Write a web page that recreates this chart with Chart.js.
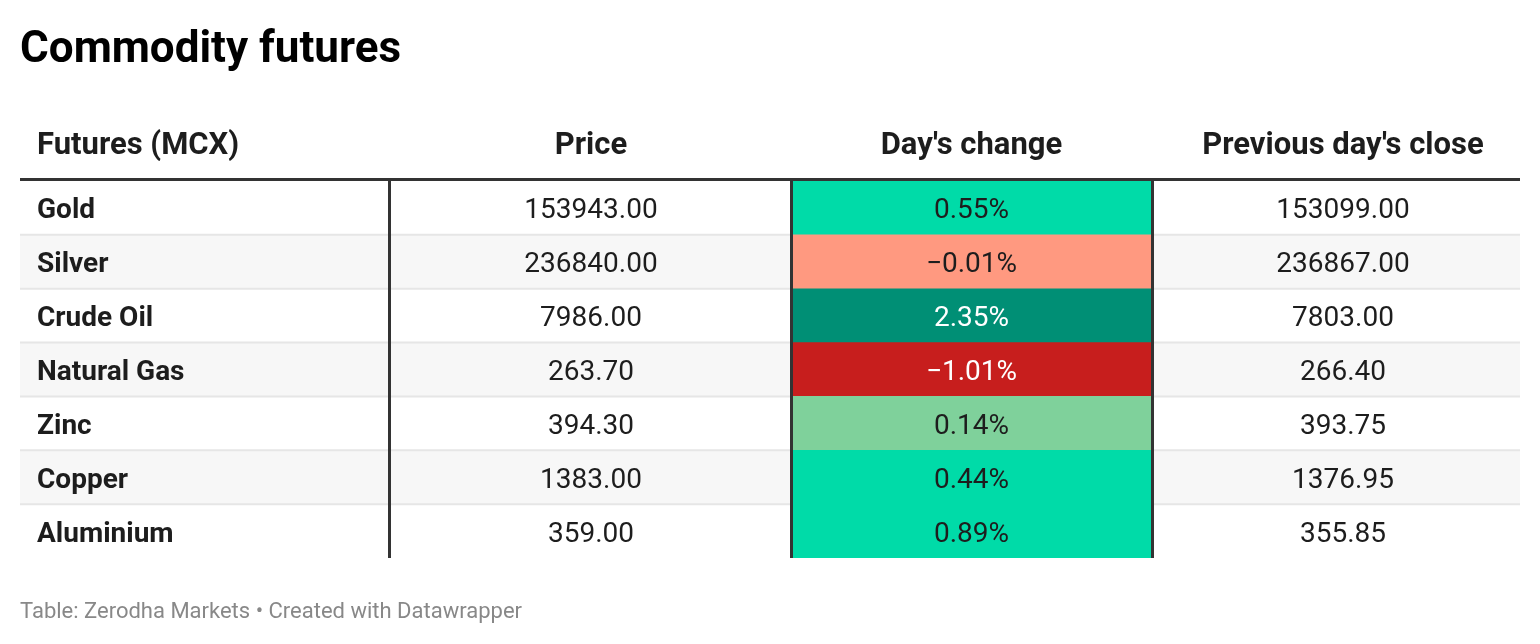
<!DOCTYPE html>
<html>
<head>
<meta charset="utf-8">
<script src="https://cdn.jsdelivr.net/npm/chart.js@4"></script>
<style>
  html, body { margin: 0; padding: 0; background: #fff; }
  #wrap { width: 1540px; height: 644px; }
</style>
</head>
<body>
<div id="wrap"><canvas id="c" width="1540" height="644"></canvas></div>
<script>
// ---- data ----
const titleText = 'Commodity futures';
const footerText = 'Table: Zerodha Markets \u2022 Created with Datawrapper';
const headers = ['Futures (MCX)', 'Price', "Day's change", "Previous day's close"];
const commodities = ['Gold', 'Silver', 'Crude Oil', 'Natural Gas', 'Zinc', 'Copper', 'Aluminium'];
const prices = [153943.00, 236840.00, 7986.00, 263.70, 394.30, 1383.00, 359.00];
const changes = [0.55, -0.01, 2.35, -1.01, 0.14, 0.44, 0.89];
const prevClose = [153099.00, 236867.00, 7803.00, 266.40, 393.75, 1376.95, 355.85];

// ---- layout (table units along x: 0..1500) ----
const TABLE_W = 1500;
const colEdges = [0, 369, 771, 1132, 1500];
const textX = [17, 571, 951.5, 1323];
const FONT = 'Roboto, "Liberation Sans", sans-serif';

function changeColor(v) {
  if (v <= -0.5) return '#c71e1d';
  if (v < 0) return '#ff9980';
  if (v < 0.3) return '#7fd19b';
  if (v < 1.5) return '#00dba8';
  return '#008f75';
}
function changeTextColor(v) {
  return (v <= -0.5 || v >= 1.5) ? '#ffffff' : '#1d1d1d';
}
function fmtNum(v) { return v.toFixed(2); }
function fmtPct(v) { return (v < 0 ? '\u2212' : '') + Math.abs(v).toFixed(2) + '%'; }

const tablePlugin = {
  id: 'tablePlugin',
  beforeDraw(chart) {
    const ctx = chart.ctx;
    ctx.save();
    ctx.fillStyle = '#ffffff';
    ctx.fillRect(0, 0, chart.width, chart.height);
    ctx.restore();
  },
  afterDatasetsDraw(chart) {
    const ctx = chart.ctx;
    const xs = chart.scales.x, ys = chart.scales.y;
    const area = chart.chartArea;
    const n = commodities.length;
    const step = (area.bottom - area.top) / n;
    ctx.save();

    // row separators (not across the coloured column)
    ctx.strokeStyle = '#e6e6e6';
    ctx.lineWidth = 2;
    for (let i = 0; i < n - 1; i++) {
      const y = ys.getPixelForValue(i) + step / 2;
      ctx.beginPath();
      ctx.moveTo(xs.getPixelForValue(colEdges[0]), y);
      ctx.lineTo(xs.getPixelForValue(colEdges[2]), y);
      ctx.moveTo(xs.getPixelForValue(colEdges[3]), y);
      ctx.lineTo(xs.getPixelForValue(colEdges[4]), y);
      ctx.stroke();
    }

    // vertical column borders
    ctx.strokeStyle = '#333333';
    ctx.lineWidth = 3;
    for (let k = 1; k <= 3; k++) {
      const x = Math.round(xs.getPixelForValue(colEdges[k])) + 0.5;
      ctx.beginPath();
      ctx.moveTo(x, area.top);
      ctx.lineTo(x, area.bottom);
      ctx.stroke();
    }

    // header bottom border
    ctx.lineWidth = 3;
    ctx.beginPath();
    ctx.moveTo(xs.getPixelForValue(0), area.top - 1.5);
    ctx.lineTo(xs.getPixelForValue(TABLE_W), area.top - 1.5);
    ctx.stroke();

    // title
    ctx.fillStyle = '#000000';
    ctx.textBaseline = 'alphabetic';
    ctx.textAlign = 'left';
    ctx.font = 'bold 44px ' + FONT;
    ctx.fillText(titleText, 20, 62);

    // headers
    ctx.fillStyle = '#1d1d1d';
    ctx.font = 'bold 31px ' + FONT;
    ctx.textBaseline = 'middle';
    headers.forEach((h, k) => {
      ctx.textAlign = k === 0 ? 'left' : 'center';
      ctx.fillText(h, xs.getPixelForValue(textX[k]), 146);
    });

    // body
    for (let i = 0; i < n; i++) {
      const y = ys.getPixelForValue(i) + 3.5;
      ctx.textAlign = 'left';
      ctx.font = 'bold 28px ' + FONT;
      ctx.fillStyle = '#1d1d1d';
      ctx.fillText(commodities[i], xs.getPixelForValue(textX[0]), y);
      ctx.textAlign = 'center';
      ctx.font = '28px ' + FONT;
      ctx.fillText(fmtNum(prices[i]), xs.getPixelForValue(textX[1]), y);
      ctx.fillText(fmtNum(prevClose[i]), xs.getPixelForValue(textX[3]), y);
      ctx.fillStyle = changeTextColor(changes[i]);
      ctx.fillText(fmtPct(changes[i]), xs.getPixelForValue(textX[2]), y);
    }

    // footer
    ctx.textAlign = 'left';
    ctx.textBaseline = 'alphabetic';
    ctx.fillStyle = '#888888';
    ctx.font = '22px ' + FONT;
    ctx.fillText(footerText, 20, 618);
    ctx.restore();
  }
};

new Chart(document.getElementById('c'), {
  type: 'bar',
  data: {
    labels: commodities,
    datasets: [
      {
        label: "Day's change",
        data: changes.map(() => [colEdges[2], colEdges[3]]),
        backgroundColor: changes.map(changeColor),
        borderWidth: 0,
        grouped: false,
        barPercentage: 1,
        categoryPercentage: 1,
        order: 1
      },
      {
        label: 'Row shading',
        data: commodities.map((_, i) => i % 2 === 1 ? [colEdges[0], colEdges[4]] : null),
        backgroundColor: '#f7f7f7',
        borderWidth: 0,
        grouped: false,
        barPercentage: 1,
        categoryPercentage: 1,
        order: 2
      }
    ]
  },
  options: {
    indexAxis: 'y',
    responsive: false,
    devicePixelRatio: 1,
    animation: false,
    layout: { padding: { left: 20, right: 20, top: 181, bottom: 86 } },
    scales: {
      x: { type: 'linear', min: 0, max: TABLE_W, display: false },
      y: { type: 'category', display: false, offset: true }
    },
    plugins: {
      legend: { display: false },
      tooltip: { enabled: false },
      title: { display: false }
    }
  },
  plugins: [tablePlugin]
});
</script>
</body>
</html>
